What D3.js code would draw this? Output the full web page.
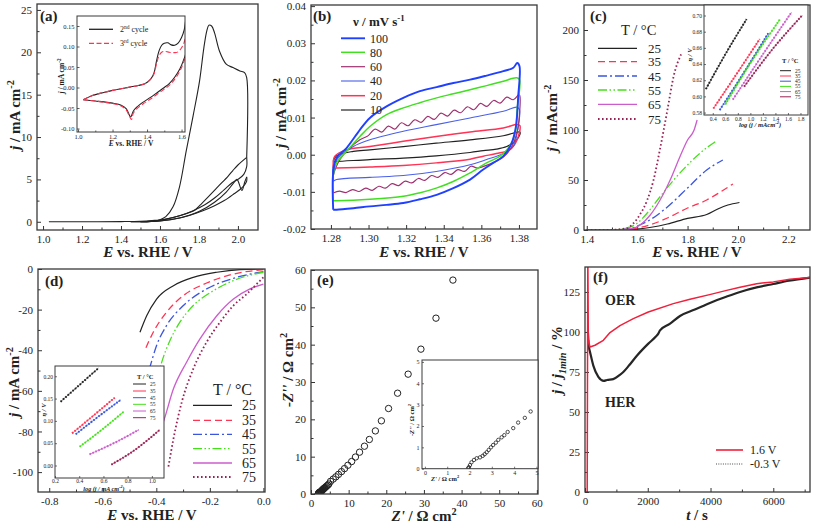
<!DOCTYPE html>
<html><head><meta charset="utf-8">
<script src="https://cdn.jsdelivr.net/npm/d3@7"></script>
<style>body{margin:0;background:#fff}svg{display:block}svg text{font-family:"Liberation Serif","DejaVu Serif",serif}</style>
</head><body><svg id="chart" width="813" height="524"></svg>
<script>
// ---------------- DATA ----------------
// (a) main CV, E (V) vs j (mA cm-2)
const aCycle1 = [[1.03,0],[1.2,0],[1.4,0.02],[1.5,0.06],[1.56,0.15],[1.6,0.25],[1.63,0.6],[1.667,1.76],[1.7,4.1],[1.735,8.4],[1.77,12.5],[1.803,16.6],[1.825,20.5],[1.84,22.5],[1.851,23.2],[1.865,23.1],[1.88,22.3],[1.906,20.1],[1.94,18.6],[1.974,18.2],[2.01,17.8],[2.034,17.6],[2.045,17.0],[2.045,7.6]];
const aCycle2Fwd = [[1.45,0],[1.55,0.05],[1.62,0.25],[1.7,0.7],[1.78,1.4],[1.803,1.9],[1.85,3.0],[1.9,4.2],[1.95,5.4],[1.974,6.05],[2.0,6.7],[2.045,7.6]];
const aCycle2Rev = [[2.045,7.6],[2.045,6.5],[2.03,5.6],[2.0,5.0],[1.97,4.6],[1.93,3.8],[1.88,2.8],[1.83,2.0],[1.77,1.3],[1.7,0.7],[1.62,0.25],[1.55,0.05],[1.45,0]];
const aCycle3Fwd = [[1.5,0],[1.6,0.1],[1.7,0.45],[1.8,1.2],[1.88,2.3],[1.94,3.5],[1.975,4.5],[1.995,5.0],[2.02,3.7],[2.035,4.7],[2.045,5.3]];
const aCycle3Rev = [[2.045,5.3],[2.045,4.8],[2.02,4.0],[1.98,3.3],[1.93,2.5],[1.88,1.9],[1.82,1.3],[1.75,0.75],[1.68,0.35],[1.6,0.1],[1.5,0]];
// (a) inset
const aIn2nd = [[1.03,-0.03],[1.08,-0.02],[1.15,-0.012],[1.2,-0.007],[1.25,-0.003],[1.3,0.001],[1.35,0.005],[1.39,0.01],[1.42,0.02],[1.44,0.035],[1.455,0.065],[1.47,0.09],[1.485,0.103],[1.5,0.108],[1.52,0.109],[1.54,0.104],[1.56,0.103],[1.58,0.108],[1.6,0.122],[1.615,0.14],[1.625,0.165],
  [1.625,0.085],[1.61,0.065],[1.59,0.045],[1.56,0.025],[1.53,0.01],[1.5,0.0],[1.46,-0.012],[1.42,-0.024],[1.38,-0.035],[1.34,-0.048],[1.32,-0.058],[1.305,-0.072],[1.295,-0.065],[1.28,-0.052],[1.25,-0.043],[1.2,-0.038],[1.15,-0.035],[1.1,-0.033],[1.03,-0.03]];
const aIn3rd = [[1.03,-0.03],[1.08,-0.02],[1.15,-0.012],[1.2,-0.007],[1.25,-0.003],[1.3,0.001],[1.35,0.005],[1.39,0.01],[1.42,0.02],[1.44,0.033],[1.455,0.058],[1.47,0.078],[1.485,0.086],[1.5,0.088],[1.52,0.087],[1.54,0.085],[1.56,0.085],[1.58,0.087],[1.6,0.097],[1.615,0.11],[1.625,0.125],
  [1.625,0.082],[1.61,0.06],[1.59,0.04],[1.56,0.02],[1.53,0.006],[1.5,-0.004],[1.46,-0.016],[1.42,-0.028],[1.38,-0.039],[1.34,-0.052],[1.32,-0.063],[1.31,-0.078],[1.298,-0.07],[1.28,-0.055],[1.25,-0.045],[1.2,-0.039],[1.15,-0.036],[1.1,-0.033],[1.03,-0.03]];

// (b) CVs at scan rates (mV/s)
const bRates = ["100","80","60","40","20","10"];
const b100 = [[1.2812,-0.0148],[1.2812,-0.0049],[1.283,-0.0009],[1.2883,0.0018],[1.2954,0.0067],[1.3007,0.0099],[1.3096,0.013],[1.3185,0.0153],[1.3273,0.0171],[1.3362,0.0182],[1.3451,0.0193],[1.354,0.0202],[1.3628,0.0213],[1.3717,0.0225],[1.377,0.0234],[1.3791,0.0247],
  [1.3803,0.0238],[1.3796,0.0157],[1.3784,0.0076],[1.3761,0.0031],[1.3717,-0.0004],[1.3663,-0.0022],[1.361,-0.004],[1.354,-0.0067],[1.3451,-0.009],[1.3362,-0.0108],[1.3273,-0.012],[1.3185,-0.013],[1.3096,-0.0135],[1.3007,-0.0139],[1.2919,-0.0144],[1.283,-0.0148],[1.2812,-0.0148]];
const b80 = [[1.2812,-0.0124],[1.2812,-0.0058],[1.283,-0.0022],[1.2883,0.0009],[1.2954,0.0049],[1.3007,0.0076],[1.3096,0.0108],[1.3185,0.0126],[1.3273,0.014],[1.3362,0.0153],[1.3451,0.0164],[1.354,0.0175],[1.3628,0.0186],[1.3717,0.0198],[1.3788,0.0207],
  [1.3803,0.0202],[1.379,0.0121],[1.378,0.0058],[1.375,0.0022],[1.370,-0.0004],[1.3628,-0.0022],[1.354,-0.0049],[1.345,-0.0072],[1.336,-0.009],[1.327,-0.0103],[1.3185,-0.0112],[1.3007,-0.012],[1.283,-0.0124],[1.2812,-0.0124]];
const b60 = [[1.2812,-0.0103],[1.2812,-0.0058],[1.2848,-0.0013],[1.289,0.0013],[1.2954,0.004],[1.299,0.0049],
  [1.3000,0.0052],[1.3035,0.0069],[1.3070,0.0061],[1.3105,0.0077],[1.3140,0.0069],[1.3175,0.0086],[1.3210,0.0078],[1.3245,0.0094],[1.3280,0.0087],[1.3315,0.0103],[1.3350,0.0095],[1.3385,0.0112],[1.3420,0.0104],[1.3455,0.0120],[1.3490,0.0113],[1.3525,0.0129],[1.3560,0.0121],[1.3595,0.0138],[1.3630,0.0130],[1.3665,0.0146],[1.3700,0.0139],[1.3735,0.0155],[1.3770,0.0148],[1.3800,0.0162],
  [1.3805,0.0158],[1.3803,0.011],[1.379,0.006],[1.376,0.002],[1.372,-0.0005],[1.367,-0.002],[1.362,-0.003],
  [1.3580,-0.0036],[1.3545,-0.0031],[1.3510,-0.0045],[1.3475,-0.0040],[1.3440,-0.0053],[1.3405,-0.0048],[1.3370,-0.0061],[1.3335,-0.0056],[1.3300,-0.0069],[1.3265,-0.0064],[1.3230,-0.0076],[1.3195,-0.0071],[1.3160,-0.0083],[1.3125,-0.0078],[1.3090,-0.0090],[1.3055,-0.0085],[1.3020,-0.0096],[1.2985,-0.0090],[1.2950,-0.0099],[1.2915,-0.0094],[1.2880,-0.0102],[1.2845,-0.0098],[1.2812,-0.0103]];
const b40 = [[1.2812,-0.0072],[1.2812,-0.0031],[1.2848,-0.0004],[1.2919,0.0022],[1.3007,0.004],[1.3185,0.0063],[1.336,0.0081],[1.354,0.0099],[1.3717,0.0117],[1.379,0.0128],
  [1.3803,0.0121],[1.379,0.0058],[1.377,0.0022],[1.3717,0.0003],[1.3628,-0.0013],[1.354,-0.0027],[1.336,-0.0045],[1.3185,-0.0056],[1.3007,-0.0061],[1.283,-0.0067],[1.2812,-0.0072]];
const b20 = [[1.2812,-0.0036],[1.2821,-0.0004],[1.2883,0.0013],[1.3007,0.0022],[1.3185,0.0036],[1.336,0.0049],[1.354,0.0061],[1.3717,0.0072],[1.379,0.0081],
  [1.3805,0.0078],[1.379,0.004],[1.375,0.0013],[1.368,0.0003],[1.361,-0.0004],[1.354,-0.0012],[1.336,-0.0022],[1.3185,-0.0029],[1.3007,-0.0033],[1.283,-0.0036],[1.2812,-0.0036]];
const b10 = [[1.2812,-0.0018],[1.283,-0.0003],[1.2919,0.0009],[1.3007,0.0013],[1.3185,0.0022],[1.336,0.0031],[1.354,0.004],[1.3717,0.0051],[1.3805,0.0061],
  [1.3805,0.0054],[1.378,0.0036],[1.3735,0.0022],[1.368,0.0015],[1.361,0.0011],[1.354,0.0006],[1.336,-0.0003],[1.3185,-0.0009],[1.3007,-0.0013],[1.283,-0.0018],[1.2812,-0.0018]];

// (c) OER polarisation at temperatures
const temps = ["25","35","45","55","65","75"];
const c25 = [[1.4,0],[1.5,0],[1.55,0.1],[1.6,0.8],[1.65,2.5],[1.72,6],[1.8,11.7],[1.876,15.5],[1.92,21],[1.96,25],[2.006,27.5]];
const c35 = [[1.4,0],[1.5,0],[1.55,0.3],[1.6,2],[1.65,5],[1.72,12],[1.8,22],[1.876,30],[1.93,38],[1.98,46]];
const c45 = [[1.4,0],[1.5,0],[1.57,1.3],[1.61,5],[1.65,10],[1.72,23],[1.8,42],[1.876,60],[1.94,70]];
const c55 = [[1.4,0],[1.5,0.1],[1.55,1.5],[1.6,6.7],[1.64,17],[1.69,33],[1.745,50],[1.8,65],[1.85,77],[1.914,89]];
const c65 = [[1.4,0],[1.5,0.1],[1.572,1],[1.612,5],[1.652,15],[1.691,30],[1.731,50],[1.771,74],[1.8,90],[1.826,100],[1.838,110]];
const c75 = [[1.4,0],[1.48,0],[1.56,1.7],[1.585,6.7],[1.61,15],[1.64,30],[1.665,50],[1.69,80],[1.72,120],[1.745,154],[1.775,176]];
// (c) inset Tafel: log(j) vs overpotential
const ci25 = [[0.29,0.609],[0.6,0.652],[0.94,0.6955]];
const ci35 = [[0.41,0.585],[0.8,0.630],[1.15,0.671]];
const ci45 = [[0.51,0.583],[0.9,0.630],[1.285,0.678]];
const ci55 = [[0.6,0.590],[1.0,0.641],[1.47,0.695]];
const ci65 = [[0.72,0.596],[1.2,0.652],[1.657,0.704]];
const ci75 = [[0.9,0.612],[1.35,0.658],[1.826,0.700]];

// (d) HER polarisation at temperatures
const d25 = [[0,0],[-0.087,-0.3],[-0.174,-1.6],[-0.262,-4.1],[-0.336,-8.2],[-0.399,-14.8],[-0.436,-23],[-0.461,-31.1]];
const d35 = [[0,-0.3],[-0.112,-2.5],[-0.212,-6.9],[-0.299,-13.1],[-0.362,-21.3],[-0.411,-31],[-0.442,-39.7]];
const d45 = [[0,-1.3],[-0.112,-4.6],[-0.212,-9.8],[-0.299,-18],[-0.362,-27.9],[-0.399,-37.7],[-0.424,-48.4]];
const d55 = [[0,-1.6],[-0.112,-5.7],[-0.187,-10.7],[-0.262,-18],[-0.312,-26.2],[-0.349,-35.2],[-0.38,-46],[-0.40,-56]];
const d65 = [[0,-7.4],[-0.05,-9.8],[-0.112,-14.8],[-0.174,-23],[-0.237,-34.4],[-0.287,-45.9],[-0.336,-59],[-0.374,-75.4],[-0.386,-79.5]];
const d75 = [[0,-4.1],[-0.019,-6.6],[-0.062,-12.3],[-0.112,-18],[-0.162,-26.2],[-0.212,-36],[-0.262,-49.2],[-0.305,-65.6],[-0.336,-83.6],[-0.355,-97.5]];
// (d) inset Tafel
const di25 = [[0.246,0.143],[0.4,0.180],[0.558,0.218]];
const di35 = [[0.341,0.072],[0.5,0.108],[0.693,0.152]];
const di45 = [[0.371,0.070],[0.55,0.108],[0.742,0.147]];
const di55 = [[0.403,0.042],[0.6,0.083],[0.769,0.121]];
const di65 = [[0.485,0.025],[0.7,0.052],[0.891,0.080]];
const di75 = [[0.665,0.002],[0.85,0.033],[1.065,0.080]];

// (e) Nyquist: Z' vs -Z''
const eZ = [[1.94,0.02],[1.97,0.07],[2.02,0.17],[2.09,0.30],[2.2,0.41],[2.32,0.49],[2.47,0.53],[2.59,0.60],[2.68,0.68],[2.77,0.77],[2.86,0.88],[2.96,1.0],[3.06,1.11],[3.18,1.22],[3.29,1.35],[3.44,1.47],[3.56,1.57],[3.71,1.72],[3.96,1.90],[4.18,2.16],[4.48,2.38],[4.74,2.68],
  [5.2,3.4],[5.9,4.0],[6.6,4.6],[7.3,5.25],[8.1,6.0],[8.9,6.8],[9.8,7.7],[10.8,8.7],[11.8,9.9],[12.9,11.2],[14.2,12.8],[15.5,14.6],[17.1,16.9],[18.7,19.6],[20.6,22.9],[23.0,27.0],[25.8,32.1],[29.2,38.8],[33.2,47.1],[37.7,57.3]];

// (f) chronoamperometry: t (s) vs j/j1min (%)
const f16V = [[70,0],[90,150],[105,100],[130,93],[159,90.6],[319,91.7],[584,94.8],[797,99.6],[1115,104],[1540,108.3],[2018,112.5],[2815,117.7],[3346,120.4],[4004,123.5],[4514,126],[4940,128],[5470,130.2],[6000,131.3],[6530,133],[7170,134]];
const fm03V = [[100,95],[130,90],[160,87.5],[265,79],[425,72],[600,69.5],[700,70],[900,70.5],[1100,73],[1221,75],[1400,79],[1646,85],[2018,92.7],[2250,97],[2337,99],[2390,101],[2700,105],[3027,110],[3500,114],[4000,118.3],[4500,122],[4940,125],[5500,128],[6000,130],[6500,132],[7170,134]];

// tick values
const aXT=[1.0,1.2,1.4,1.6,1.8,2.0], aXM=[1.1,1.3,1.5,1.7,1.9], aYT=[0,5,10,15,20,25], aYM=[2.5,7.5,12.5,17.5,22.5];
const aiXT=[1.0,1.2,1.4,1.6], aiXM=[1.1,1.3,1.5], aiYT=[-0.10,-0.05,0,0.05,0.10,0.15];
const bXT=[1.28,1.30,1.32,1.34,1.36,1.38], bXM=[1.29,1.31,1.33,1.35,1.37], bYT=[-0.02,-0.01,0,0.01,0.02,0.03,0.04], bYM=[-0.015,-0.005,0.005,0.015,0.025,0.035];
const cXT=[1.4,1.6,1.8,2.0,2.2], cXM=[1.5,1.7,1.9,2.1], cYT=[0,50,100,150,200], cYM=[25,75,125,175];
const ciXT=[0.4,0.6,0.8,1.0,1.2,1.4,1.6,1.8], ciYT=[0.58,0.60,0.62,0.64,0.66,0.68,0.70];
const dXT=[-0.8,-0.6,-0.4,-0.2,0.0], dXM=[-0.7,-0.5,-0.3,-0.1], dYT=[0,-20,-40,-60,-80,-100], dYM=[-10,-30,-50,-70,-90];
const diXT=[0.2,0.4,0.6,0.8,1.0], diYT=[0,0.05,0.10,0.15,0.20];
const eXT=[0,10,20,30,40,50,60], eXM=[5,15,25,35,45,55], eYT=[0,10,20,30,40,50,60], eYM=[5,15,25,35,45,55];
const eiXT=[0,1,2,3,4,5], eiYT=[0,1,2,3,4,5];
const fXT=[0,2000,4000,6000], fXM=[1000,3000,5000,7000], fYT=[0,25,50,75,100,125], fYM=[12.5,37.5,62.5,87.5,112.5];

// ---------------- DRAWING ----------------
const FONT='"Liberation Serif","DejaVu Serif",serif';
const svg=d3.select("#chart");
let clipN=0;
const fx=n=>v=>(Math.abs(v)<1e-12?0:v).toFixed(n);
const INK="#222";

function panel(o){
  const [x0,y0,x1,y1]=o.box;
  const x=d3.scaleLinear().domain(o.xd).range([x0,x1]);
  const y=d3.scaleLinear().domain(o.yd).range([y1,y0]);
  const g=svg.append("g");
  if(o.bg) g.append("rect").attr("x",x0).attr("y",y0).attr("width",x1-x0).attr("height",y1-y0).attr("fill","#fff");
  const cid="clip"+(clipN++);
  g.append("clipPath").attr("id",cid).append("rect").attr("x",x0).attr("y",y0).attr("width",x1-x0).attr("height",y1-y0);
  const fs=o.fs||11, tl=o.tl||4, ml=o.ml||2.5;
  const style=s=>{s.select(".domain").remove();s.attr("font-family",null).attr("font-size",fs);s.selectAll("line").attr("stroke","#333").attr("stroke-width",o.tw||1);s.selectAll("text").attr("fill",INK).style("font-family",FONT);};
  if(o.xm) g.append("g").attr("transform",`translate(0,${y1})`).call(d3.axisBottom(x).tickValues(o.xm).tickSize(-ml).tickFormat("")).call(style);
  if(o.ym) g.append("g").attr("transform",`translate(${x0},0)`).call(d3.axisLeft(y).tickValues(o.ym).tickSize(-ml).tickFormat("")).call(style);
  g.append("g").attr("transform",`translate(0,${y1})`).call(d3.axisBottom(x).tickValues(o.xt).tickSize(-tl).tickPadding(o.xp||5).tickFormat(o.fx)).call(style);
  g.append("g").attr("transform",`translate(${x0},0)`).call(d3.axisLeft(y).tickValues(o.yt).tickSize(-tl).tickPadding(o.yp||5).tickFormat(o.fy)).call(style);
  const plot=g.append("g").attr("clip-path",`url(#${cid})`);
  const frame=g.append("rect").attr("x",x0).attr("y",y0).attr("width",x1-x0).attr("height",y1-y0).attr("fill","none").attr("stroke","#3a3a3a").attr("stroke-width",o.sw||1.3);
  return {g,plot,x,y,frame};
}
function line(p,data,s){
  const gen=d3.line().x(d=>p.x(d[0])).y(d=>p.y(d[1])).curve(s.curve||d3.curveCatmullRom.alpha(0.5));
  p.plot.append("path").datum(data).attr("d",gen).attr("fill","none").attr("stroke",s.c).attr("stroke-width",s.w||1.2)
   .attr("stroke-dasharray",s.dash||null).attr("stroke-linejoin","round").attr("stroke-linecap",s.cap||"butt");
}
function txt(parent,x,y,parts,o={}){
  const fs=o.fs||12;
  const t=parent.append("text").attr("x",x).attr("y",y).style("font-family",FONT).attr("font-size",fs)
    .attr("font-weight",o.bold?"bold":"normal").attr("text-anchor",o.anchor||"start").attr("fill",o.fill||INK);
  if(o.rot) t.attr("transform",`rotate(-90,${x},${y})`);
  if(typeof parts==="string") parts=[[parts]];
  let shift=0;
  parts.forEach(([s,f=""])=>{
    const ts=t.append("tspan").text(s);
    const tgt=f.includes("^")?-0.42*fs:f.includes("_")?0.28*fs:0;
    if(tgt!==shift) ts.attr("dy",tgt-shift);
    shift=tgt;
    if(f.includes("^")||f.includes("_")) ts.attr("font-size",fs*0.68);
    if(f.includes("i")) ts.attr("font-style","italic");
  });
  return t;
}
function legRow(g,xa,xb,y,s,label,lx,fs){
  g.append("line").attr("x1",xa).attr("x2",xb).attr("y1",y).attr("y2",y).attr("stroke",s.c).attr("stroke-width",s.lw||s.w||1.2).attr("stroke-dasharray",s.dash||null);
  if(label) txt(g,lx,y+fs*0.35,label,{fs});
}
const EvsRHE=[["E","i"],[" vs. RHE / V"]];
const jmA=[["j","i"],[" / mA cm"],["-2","^"]];

// colours / styles by temperature
const tStyle=[
  {c:"#222",w:1.2},
  {c:"#ff3352",w:1.3,dash:"7 4"},
  {c:"#3a55e0",w:1.3,dash:"9 3 2 3"},
  {c:"#44e01a",w:1.3,dash:"9 2.5 1.5 2.5 1.5 2.5"},
  {c:"#cc5ccc",w:1.3},
  {c:"#992255",w:1.8,dash:"1.6 2.4"}
];

// ===== (a) =====
const pa=panel({box:[37,4,258,230],xd:[0.969,2.103],yd:[-0.97,25.7],xt:aXT,xm:aXM,yt:aYT,ym:aYM,fx:fx(1),fy:fx(0)});
[aCycle1,aCycle2Fwd,aCycle2Rev,aCycle3Fwd,aCycle3Rev].forEach(d=>line(pa,d,{c:INK,w:1.1}));
txt(svg,40,21,"(a)",{fs:15,bold:true});
txt(svg,148,257,EvsRHE,{fs:15,bold:true,anchor:"middle"});
txt(svg,20,115,jmA,{fs:15,bold:true,anchor:"middle",rot:true});
const pai=panel({box:[77,16,185,132],xd:[0.994,1.62],yd:[-0.1085,0.1744],xt:aiXT,xm:aiXM,yt:aiYT,fx:fx(1),fy:fx(2),fs:6.5,tl:2.5,ml:1.5,xp:2.5,yp:2.5,sw:1,tw:0.8,bg:true});
line(pai,aIn2nd,{c:INK,w:1.1});
line(pai,aIn3rd,{c:"#ff3352",w:1.1,dash:"5 2.5"});
legRow(svg,89,113,29.3,{c:INK,w:1.3},"",0,8);
txt(svg,120,32.3,[["2"],["nd","^"],[" cycle"]],{fs:8});
legRow(svg,89,113,43.3,{c:"#ff3352",w:1.3,dash:"5 2.5"},"",0,8);
txt(svg,120,46.3,[["3"],["rd","^"],[" cycle"]],{fs:8});
txt(svg,131,146,EvsRHE,{fs:7.5,bold:true,anchor:"middle"});
txt(svg,64,76,jmA,{fs:7.5,bold:true,anchor:"middle",rot:true});

// ===== (b) =====
const pb=panel({box:[311,5,537,229],xd:[1.2694,1.3896],yd:[-0.02,0.0403],xt:bXT,xm:bXM,yt:bYT,ym:bYM,fx:fx(2),fy:fx(2)});
const bStyle=[{c:"#2040ff",w:1.9},{c:"#40e020",w:1.5},{c:"#a03070",w:1.2},{c:"#4a60e8",w:1.1},{c:"#ff3355",w:1.5},{c:INK,w:1.2}];
[b10,b20,b40,b60,b80,b100].forEach((d,i)=>line(pb,d,bStyle[5-i]));
txt(svg,313,21,"(b)",{fs:15,bold:true});
txt(svg,353,26,[["ν / mV s"],["-1","^"]],{fs:13,bold:true});
[38.3,52.3,66.7,81,95.7,110].forEach((yy,i)=>legRow(svg,341,365,yy,bStyle[i],bRates[i],370,12));
txt(svg,424,257,EvsRHE,{fs:15,bold:true,anchor:"middle"});
txt(svg,286,113,jmA,{fs:15,bold:true,anchor:"middle",rot:true});

// ===== (c) =====
const pc=panel({box:[584,5,810,230],xd:[1.389,2.286],yd:[0,225],xt:cXT,xm:cXM,yt:cYT,ym:cYM,fx:fx(1),fy:fx(0)});
[c25,c35,c45,c55,c65,c75].forEach((d,i)=>line(pc,d,Object.assign({curve:d3.curveMonotoneX},tStyle[i])));
txt(svg,590,21,"(c)",{fs:15,bold:true});
txt(svg,621,35,"T / °C",{fs:14.5});
[48.3,61.7,76,90,104.3,119].forEach((yy,i)=>legRow(svg,598,637,yy,tStyle[i],temps[i],648,13));
txt(svg,697,257,EvsRHE,{fs:15,bold:true,anchor:"middle"});
txt(svg,557,118,[["j","i"],[" / mAcm"],["-2","^"]],{fs:15,bold:true,anchor:"middle",rot:true});
const pci=panel({box:[704,5,808,115],xd:[0.26,1.92],yd:[0.577,0.713],xt:ciXT,yt:ciYT,fx:fx(1),fy:fx(2),fs:5.5,tl:2,xp:2,yp:2,sw:1,tw:0.7,bg:true});
[ci25,ci35,ci45,ci55,ci65,ci75].forEach((d,i)=>{
  line(pci,d,{c:tStyle[i].c,w:0.7,curve:d3.curveMonotoneX});
  line(pci,d,{c:tStyle[i].c,w:2,dash:"1.6 1.6",curve:d3.curveMonotoneX});
});
txt(svg,782,63,"T / °C",{fs:6.5,bold:true});
[70.7,76,81.2,86.4,91.6,96.8].forEach((yy,i)=>legRow(svg,780,791,yy,{c:tStyle[i].c,w:1},temps[i],795,5.5));
txt(svg,760,127,[["log (","i"],["j","i"],[" / mAcm","i"],["-2","^i"],[")","i"]],{fs:6.5,bold:true,anchor:"middle"});
txt(svg,692,55,[["η","i"],[" / V","i"]],{fs:6.5,bold:true,anchor:"middle",rot:true});

// ===== (d) =====
const pd=panel({box:[38,269,265,492],xd:[-0.842,0.006],yd:[-109.8,0],xt:dXT,xm:dXM,yt:dYT,ym:dYM,fx:fx(1),fy:fx(0)});
[d25,d35,d45,d55,d65,d75].forEach((d,i)=>line(pd,d,Object.assign({curve:d3.curveMonotoneX},tStyle[i])));
txt(svg,45,286,"(d)",{fs:15,bold:true});
txt(svg,213,395,"T / °C",{fs:16});
[405.3,420.3,434.3,448.7,463,477].forEach((yy,i)=>legRow(svg,193,232,yy,tStyle[i],temps[i],242,14));
txt(svg,152,520,EvsRHE,{fs:15,bold:true,anchor:"middle"});
txt(svg,19,382,jmA,{fs:15,bold:true,anchor:"middle",rot:true});
const pdi=panel({box:[55,366,164,478],xd:[0.2,1.1],yd:[-0.028,0.223],xt:diXT,yt:diYT,fx:fx(1),fy:fx(2),fs:5.5,tl:2,xp:1.5,yp:2,sw:1,tw:0.7,bg:true});
[di25,di35,di45,di55,di65,di75].forEach((d,i)=>{
  line(pdi,d,{c:tStyle[i].c,w:0.7,curve:d3.curveMonotoneX});
  line(pdi,d,{c:tStyle[i].c,w:2,dash:"1.6 1.6",curve:d3.curveMonotoneX});
});
txt(svg,137,379,"T / °C",{fs:6.5,bold:true});
[384,391,397.7,404.3,411,417.7].forEach((yy,i)=>legRow(svg,133,146,yy,{c:tStyle[i].c,w:1},temps[i],150,5.5));
txt(svg,104,490.5,[["log (","i"],["j","i"],[" / mA cm","i"],["-2","^i"],[")","i"]],{fs:6.2,bold:true,anchor:"middle"});
txt(svg,46,410,[["η","i"],[" / V","i"]],{fs:6.5,bold:true,anchor:"middle",rot:true});

// ===== (e) =====
const pe=panel({box:[311,270,538,494],xd:[0,60.3],yd:[0,60],xt:eXT,xm:eXM,yt:eYT,ym:eYM,fx:fx(0),fy:fx(0)});
pe.plot.selectAll("circle").data(eZ).join("circle").attr("cx",d=>pe.x(d[0])).attr("cy",d=>pe.y(d[1])).attr("r",3.2)
  .attr("fill","none").attr("stroke",INK).attr("stroke-width",1);
txt(svg,317,285,"(e)",{fs:15,bold:true});
txt(svg,424,521,[["Z'","i"],[" / Ω cm"],["2","^"]],{fs:15,bold:true,anchor:"middle"});
txt(svg,293,370,[["-Z''","i"],[" / Ω cm"],["2","^"]],{fs:15,bold:true,anchor:"middle",rot:true});
const pei=panel({box:[422,360,538,468.7],xd:[-0.13,5.07],yd:[0,5.09],xt:eiXT,yt:eiYT,fx:fx(0),fy:fx(0),fs:6,tl:2,xp:2,yp:2.5,sw:1,tw:0.7,bg:true});
pei.plot.selectAll("circle").data(eZ).join("circle").attr("cx",d=>pei.x(d[0])).attr("cy",d=>pei.y(d[1])).attr("r",1.7)
  .attr("fill","none").attr("stroke",INK).attr("stroke-width",0.8);
txt(svg,445,481,[["Z'","i"],[" / Ω cm"],["2","^"]],{fs:6.5,bold:true,anchor:"middle"});
txt(svg,414,420,[["-Z''","i"],[" / Ω cm"],["2","^"]],{fs:6.5,bold:true,anchor:"middle",rot:true});

// ===== (f) =====
const pf=panel({box:[585,267,810,492],xd:[0,7170],yd:[0,140.6],xt:fXT,xm:fXM,yt:fYT,ym:fYM,fx:fx(0),fy:fx(0)});
line(pf,fm03V,{c:"#262626",w:2.2,curve:d3.curveMonotoneX});
line(pf,f16V,{c:"#f0203c",w:1.5,curve:d3.curveLinear});
txt(svg,593,282,"(f)",{fs:15,bold:true});
txt(svg,605,305,"OER",{fs:14,bold:true});
txt(svg,605,407,"HER",{fs:14,bold:true});
legRow(svg,716,743,450,{c:"#f0203c",w:1.6},"1.6 V",750,12);
legRow(svg,716,743,464,{c:"#888",w:1.6,dash:"1 1.3"},"-0.3 V",750,12);
txt(svg,697,520,[["t","i"],[" / s"]],{fs:15,bold:true,anchor:"middle"});
txt(svg,562,360,[["j","i"],[" / "],["j","i"],["1min","_i"],[" / %"]],{fs:15,bold:true,anchor:"middle",rot:true});
</script></body></html>
